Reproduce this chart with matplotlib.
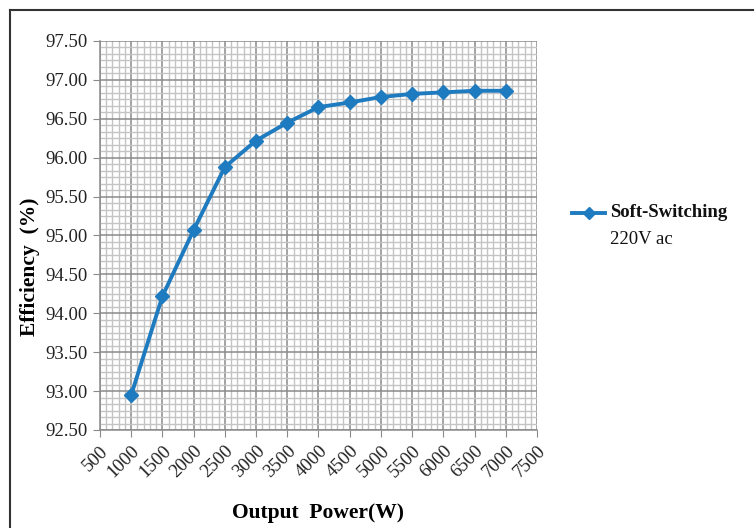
import matplotlib
matplotlib.use("Agg")
import matplotlib.pyplot as plt
from matplotlib.ticker import MultipleLocator, FormatStrFormatter
from matplotlib.lines import Line2D

power = [1000, 1500, 2000, 2500, 3000, 3500, 4000, 4500, 5000, 5500, 6000, 6500, 7000]
efficiency = [92.95, 94.22, 95.07, 95.88, 96.22, 96.45, 96.65, 96.71, 96.78, 96.82, 96.84, 96.86, 96.86]
legend_line1 = "Soft-Switching"
legend_line2 = "220V ac"
x_ticks = list(range(500, 7501, 500))

plt.rcParams['font.family'] = ['Liberation Serif', 'DejaVu Serif']

fig = plt.figure(figsize=(7.56, 5.28), dpi=100)
ax = fig.add_axes([100/756, 1-430/528, 437/756, 389/528])

blue = '#1f7bbf'
ax.plot(power, efficiency, color=blue, lw=2.8, marker='D', ms=7, mfc=blue, mec=blue, zorder=5)

ax.set_xlim(500, 7500)
ax.set_ylim(92.5, 97.5)
ax.set_xticks(x_ticks)
ax.xaxis.set_minor_locator(MultipleLocator(100))
ax.yaxis.set_major_locator(MultipleLocator(0.5))
ax.yaxis.set_minor_locator(MultipleLocator(0.5/6))
ax.yaxis.set_major_formatter(FormatStrFormatter('%.2f'))

ax.grid(which='major', color='#8a8a8a', lw=1.1)
ax.grid(which='minor', color='#c4c4c4', lw=1.0)
ax.set_axisbelow(True)

for s in ['top', 'right']:
    ax.spines[s].set_visible(False)
for s in ['left', 'bottom']:
    ax.spines[s].set_color('#8a8a8a')
    ax.spines[s].set_linewidth(1.1)

ax.tick_params(which='major', length=5, color='#8a8a8a', labelsize=13.5, labelcolor='#222222', pad=4)
ax.tick_params(which='minor', length=0)
for lab in ax.get_xticklabels():
    lab.set_rotation(45)
    lab.set_ha('right')
    lab.set_rotation_mode('anchor')

ax.set_xlabel('Output  Power(W)', fontsize=15.5, fontweight='bold', labelpad=16)
ax.set_ylabel('Efficiency  (%)', fontsize=15.5, fontweight='bold')
ax.yaxis.set_label_coords(-0.137, 0.42)

# legend drawn manually
ly = 1 - 213/528
fig.add_artist(Line2D([572/756, 605/756], [ly, ly], transform=fig.transFigure, color=blue, lw=2.8))
fig.add_artist(Line2D([588.5/756], [ly], transform=fig.transFigure, color=blue, marker='D', ms=6, lw=0))
fig.text(610/756, ly, legend_line1, fontsize=13.5, fontweight='bold', va='center', ha='left', color='#111111')
fig.text(610/756, 1 - 240/528, legend_line2, fontsize=13.5, va='center', ha='left', color='#111111')

# outer frame
fig.add_artist(Line2D([10/756, 753/756], [1-10/528, 1-10/528], transform=fig.transFigure, color='#333333', lw=1.5))
fig.add_artist(Line2D([10/756, 10/756], [1-10/528, 0], transform=fig.transFigure, color='#333333', lw=1.5))

fig.savefig('out.png', dpi=100)
